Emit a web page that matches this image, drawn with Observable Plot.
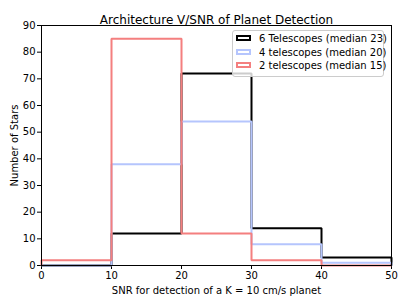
<!DOCTYPE html>
<html>
<head>
<meta charset="utf-8">
<script src="https://cdn.jsdelivr.net/npm/d3@7"></script>
<script src="https://cdn.jsdelivr.net/npm/@observablehq/plot@0.6"></script>
<style>
  html, body { margin: 0; padding: 0; background: #fff; }
  #wrap { position: relative; width: 407px; height: 305px; font-family: "DejaVu Sans", sans-serif; }
  #legend { position: absolute; left: 232px; top: 30px; width: 152px; height: 47px; box-sizing: border-box;
    border: 1px solid #ccc; border-radius: 3px; background: rgba(255,255,255,0.8); font-size: 10px; color: #000; }
  .row { position: absolute; left: 3px; height: 12px; line-height: 12px; white-space: nowrap; }
  .sw { display: inline-block; width: 15px; height: 6px; vertical-align: middle; margin-right: 8px; box-sizing: border-box; border-width: 2px; border-style: solid; position: relative; top: -1px; }
</style>
</head>
<body>
<div id="wrap"></div>
<script>
const binEdges = [0, 10, 20, 30, 40, 50];
const seriesNames = ["6 Telescopes (median 23)", "4 telescopes (median 20)", "2 telescopes (median 15)"];
const counts6 = [0, 12, 72, 14, 3];
const counts4 = [0, 38, 54, 8, 1];
const counts2 = [2, 85, 12, 2, 0];
const xTicks = [0, 10, 20, 30, 40, 50];
const yTicks = [0, 10, 20, 30, 40, 50, 60, 70, 80, 90];
const colors = ["#000000", "#b5c5fd", "#f47f7f"];

function stepPoints(counts) {
  const pts = [{x: binEdges[0], y: 0}];
  counts.forEach((c, i) => {
    pts.push({x: binEdges[i], y: c});
    pts.push({x: binEdges[i + 1], y: c});
  });
  pts.push({x: binEdges[binEdges.length - 1], y: 0});
  return pts;
}

const allCounts = [counts6, counts4, counts2];

const chart = Plot.plot({
  width: 407,
  height: 305,
  marginLeft: 41,
  marginRight: 16,
  marginTop: 25,
  marginBottom: 40,
  style: { fontFamily: "DejaVu Sans, sans-serif", fontSize: "10px", color: "#000", background: "#fff" },
  x: { domain: [0, 50], ticks: xTicks, tickSize: 4, tickPadding: 2, label: "SNR for detection of a K = 10 cm/s planet", labelAnchor: "center", labelArrow: "none", labelOffset: 28 },
  y: { domain: [0, 90], ticks: yTicks, tickSize: 4, tickPadding: 2, label: "Number of Stars", labelAnchor: "center", labelArrow: "none", labelOffset: 31 },
  marks: [
    ...allCounts.map((c, i) => Plot.line(stepPoints(c), {x: "x", y: "y", stroke: colors[i], strokeWidth: 2, strokeLinejoin: "miter", strokeLinecap: "butt"})),
    Plot.frame({stroke: "#000", strokeWidth: 1}),
    Plot.text(["Architecture V/SNR of Planet Detection"], {frameAnchor: "top", dy: -10, fontSize: 12, fill: "#000"})
  ]
});

const wrap = document.getElementById("wrap");
wrap.appendChild(chart);

const legend = document.createElement("div");
legend.id = "legend";
seriesNames.forEach((name, i) => {
  const row = document.createElement("div");
  row.className = "row";
  row.style.top = (2 + i * 13.5) + "px";
  const sw = document.createElement("span");
  sw.className = "sw";
  sw.style.borderColor = colors[i];
  row.appendChild(sw);
  row.appendChild(document.createTextNode(name));
  legend.appendChild(row);
});
wrap.appendChild(legend);
</script>
</body>
</html>
